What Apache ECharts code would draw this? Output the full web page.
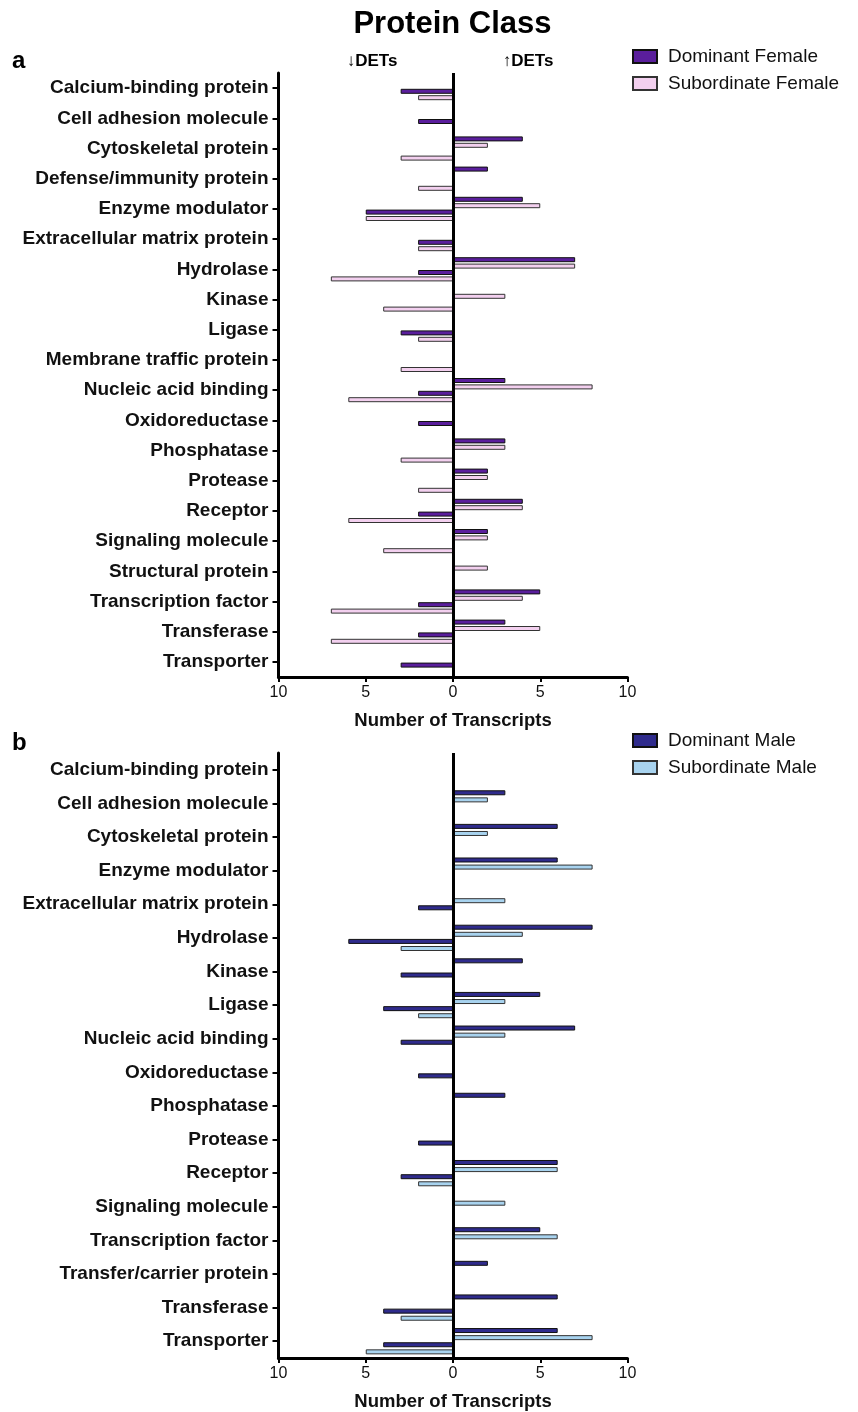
<!DOCTYPE html>
<html>
<head>
<meta charset="utf-8">
<script src="https://cdn.jsdelivr.net/npm/echarts@6/dist/echarts.min.js"></script>
<style>
html,body{margin:0;padding:0;background:#fff;}
#chart{width:858px;height:1412px;}
</style>
</head>
<body>
<div id="chart"></div>
<script>
// ---- Panel a (female) ----
var femaleCategories = ['Calcium-binding protein','Cell adhesion molecule','Cytoskeletal protein','Defense/immunity protein','Enzyme modulator','Extracellular matrix protein','Hydrolase','Kinase','Ligase','Membrane traffic protein','Nucleic acid binding','Oxidoreductase','Phosphatase','Protease','Receptor','Signaling molecule','Structural protein','Transcription factor','Transferase','Transporter'];
var femDomUp   = [null,null,4,2,4,null,7,null,null,null,3,null,3,2,4,2,null,5,3,null];
var femSubUp   = [null,null,2,null,5,null,7,3,null,null,8,null,3,2,4,2,2,4,5,null];
var femDomDown = [-3,-2,null,null,-5,-2,-2,null,-3,null,-2,-2,null,null,-2,null,null,-2,-2,-3];
var femSubDown = [-2,null,-3,-2,-5,-2,-7,-4,-2,-3,-6,null,-3,-2,-6,-4,null,-7,-7,null];

// ---- Panel b (male) ----
var maleCategories = ['Calcium-binding protein','Cell adhesion molecule','Cytoskeletal protein','Enzyme modulator','Extracellular matrix protein','Hydrolase','Kinase','Ligase','Nucleic acid binding','Oxidoreductase','Phosphatase','Protease','Receptor','Signaling molecule','Transcription factor','Transfer/carrier protein','Transferase','Transporter'];
var maleDomUp   = [null,3,6,6,null,8,4,5,7,null,3,null,6,null,5,2,6,6];
var maleSubUp   = [null,2,2,8,3,4,null,3,3,null,null,null,6,3,6,null,null,8];
var maleDomDown = [null,null,null,null,-2,-6,-3,-4,-3,-2,null,-2,-3,null,null,null,-4,-4];
var maleSubDown = [null,null,null,null,null,-3,null,-2,null,null,null,null,-2,null,null,null,-3,-5];

var xTicks = {min: -10, max: 10, interval: 5};
var FONT = "'Liberation Sans', Arial, Helvetica, sans-serif";

var colors = {
  domF: '#5a1e9c', subF: '#f3d0ef',
  domM: '#2f2b8c', subM: '#a8d3ef'
};

function xAxisCfg(gridIndex) {
  return {
    type: 'value', gridIndex: gridIndex,
    min: xTicks.min, max: xTicks.max, interval: xTicks.interval,
    axisLine: {show: true, onZero: false, lineStyle: {color: '#000', width: 3}},
    axisTick: {show: true, length: 5, lineStyle: {color: '#000', width: 2}},
    splitLine: {show: false},
    axisLabel: {formatter: function (v) { return Math.abs(v); }, fontSize: 16, color: '#111', fontFamily: FONT, margin: 8},
    name: 'Number of Transcripts', nameLocation: 'middle', nameGap: 34,
    nameTextStyle: {fontSize: 18.5, fontWeight: 'bold', color: '#111', fontFamily: FONT}
  };
}
function yAxisCfg(gridIndex, cats) {
  return {
    type: 'category', gridIndex: gridIndex, data: cats, inverse: true,
    axisLine: {show: true, onZero: false, lineStyle: {color: '#000', width: 3}},
    axisTick: {show: true, alignWithLabel: true, length: 6, lineStyle: {color: '#000', width: 2}},
    axisLabel: {fontSize: 19, fontWeight: 'bold', color: '#111', fontFamily: FONT, margin: 10, interval: 0},
    splitLine: {show: false}
  };
}
function barSeries(name, data, gi, color, border, gap, withZero) {
  var s = {
    type: 'bar', name: name, data: data,
    xAxisIndex: gi, yAxisIndex: gi,
    barWidth: 5, barGap: gap,
    itemStyle: {color: color, borderColor: border, borderWidth: 1},
    animation: false
  };
  if (withZero) {
    s.markLine = {
      silent: true, symbol: ['none', 'none'],
      label: {show: false},
      lineStyle: {color: '#000', width: 3, type: 'solid'},
      data: [{xAxis: 0}],
      animation: false
    };
  }
  return s;
}

var chart = echarts.init(document.getElementById('chart'), null, {renderer: 'canvas'});
chart.setOption({
  backgroundColor: '#fff',
  animation: false,
  textStyle: {fontFamily: FONT},
  grid: [
    {left: 278.5, width: 349, top: 73, height: 604},
    {left: 278.5, width: 349, top: 753, height: 606}
  ],
  xAxis: [xAxisCfg(0), xAxisCfg(1)],
  yAxis: [yAxisCfg(0, femaleCategories), yAxisCfg(1, maleCategories)],
  legend: [
    {
      data: ['Dominant Female', 'Subordinate Female'],
      orient: 'vertical', left: 627, top: 42, icon: 'rect',
      itemWidth: 24, itemHeight: 13, itemGap: 8, selectedMode: false,
      textStyle: {fontSize: 19, color: '#111', fontFamily: FONT, padding: [0, 0, 0, 6]}
    },
    {
      data: ['Dominant Male', 'Subordinate Male'],
      orient: 'vertical', left: 627, top: 726, icon: 'rect',
      itemWidth: 24, itemHeight: 13, itemGap: 8, selectedMode: false,
      textStyle: {fontSize: 19, color: '#111', fontFamily: FONT, padding: [0, 0, 0, 6]}
    }
  ],
  graphic: [
    {type: 'text', x: 452.5, y: 24, style: {text: 'Protein Class', font: 'bold 31px ' + FONT, fill: '#000', align: 'center', verticalAlign: 'middle'}},
    {type: 'text', x: 12, y: 61, style: {text: 'a', font: 'bold 24px ' + FONT, fill: '#000', verticalAlign: 'middle'}},
    {type: 'text', x: 12, y: 743, style: {text: 'b', font: 'bold 24px ' + FONT, fill: '#000', verticalAlign: 'middle'}},
    {type: 'text', x: 372, y: 61, style: {text: '\u2193DETs', font: 'bold 17px ' + FONT, fill: '#000', align: 'center', verticalAlign: 'middle'}},
    {type: 'text', x: 528, y: 61, style: {text: '\u2191DETs', font: 'bold 17px ' + FONT, fill: '#000', align: 'center', verticalAlign: 'middle'}}
  ],
  series: [
    barSeries('Dominant Female', femDomUp, 0, colors.domF, '#111', '28%', true),
    barSeries('Subordinate Female', femSubUp, 0, colors.subF, '#333', '28%', false),
    barSeries('Dominant Female', femDomDown, 0, colors.domF, '#111', '28%', false),
    barSeries('Subordinate Female', femSubDown, 0, colors.subF, '#333', '28%', false),
    barSeries('Dominant Male', maleDomUp, 1, colors.domM, '#111', '42%', true),
    barSeries('Subordinate Male', maleSubUp, 1, colors.subM, '#333', '42%', false),
    barSeries('Dominant Male', maleDomDown, 1, colors.domM, '#111', '42%', false),
    barSeries('Subordinate Male', maleSubDown, 1, colors.subM, '#333', '42%', false)
  ]
});
</script>
</body>
</html>
